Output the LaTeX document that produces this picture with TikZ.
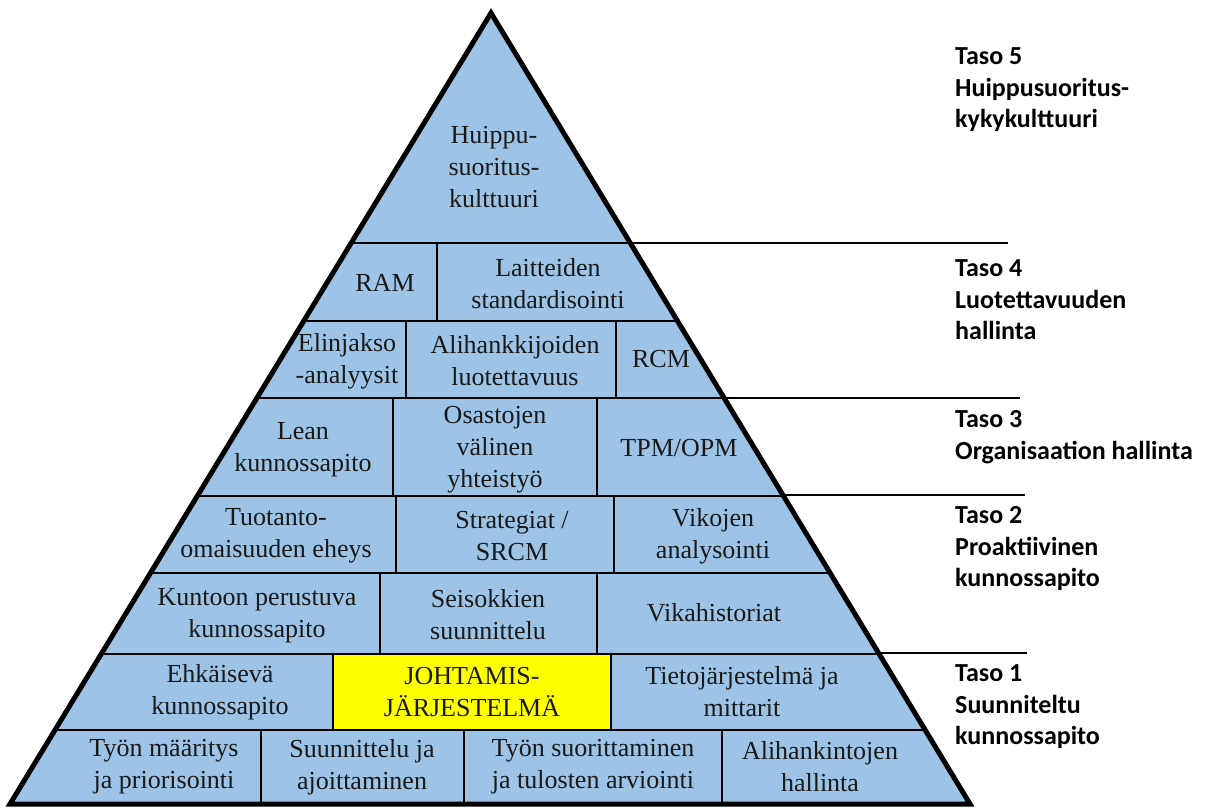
\documentclass[tikz,border=0pt]{standalone}
\usepackage{fontspec}
\setmainfont{Liberation Serif}
\newfontfamily\lblfont{Carlito}
\definecolor{pyrblue}{HTML}{9DC3E6}
\definecolor{hiyellow}{HTML}{FFFF00}
\begin{document}
\begin{tikzpicture}[x=1pt,y=-1pt,
  cell/.style={align=center,inner sep=0pt,font=\fontsize{26}{32}\selectfont,text=black!90},
  lvl/.style={align=left,anchor=west,inner sep=0pt,font=\lblfont\bfseries\fontsize{26}{31.5}\selectfont},
  inner/.style={line width=1.8pt},
  ext/.style={line width=2.4pt}]
\useasboundingbox (0,0) rectangle (1213,807);
% pyramid corners
\coordinate (apex) at (491,13);
\coordinate (bl) at (10,804);
\coordinate (br) at (970,804);
\fill[pyrblue] (apex) -- (bl) -- (br) -- cycle;
\fill[hiyellow] (333,654) rectangle (611,730);
\begin{scope}
\clip (apex) -- (bl) -- (br) -- cycle;
% horizontal row lines
\foreach \yy in {243,321,398,496,573,654,730}
  \draw[inner] (0,\yy) -- (1213,\yy);
% vertical dividers
\draw[inner] (437,243) -- (437,321);
\draw[inner] (406,321) -- (406,398);
\draw[inner] (616,321) -- (616,398);
\draw[inner] (393,398) -- (393,496);
\draw[inner] (597,398) -- (597,496);
\draw[inner] (396,496) -- (396,573);
\draw[inner] (614,496) -- (614,573);
\draw[inner] (380,573) -- (380,654);
\draw[inner] (597,573) -- (597,654);
\draw[inner] (333,654) -- (333,730);
\draw[inner] (611,654) -- (611,730);
\draw[inner] (261,730) -- (261,804);
\draw[inner] (464,730) -- (464,804);
\draw[inner] (722,730) -- (722,804);
\end{scope}
\draw[line width=5pt,line join=miter] (apex) -- (bl) -- (br) -- cycle;
% extension lines
\coordinate (e5a) at (630,243); \coordinate (e5b) at (1008,243);
\coordinate (e4a) at (724,398); \coordinate (e4b) at (1020,398);
\coordinate (e3a) at (783,495); \coordinate (e3b) at (1025,495);
\coordinate (e2a) at (878,653); \coordinate (e2b) at (1027,653);
\draw[ext] (e5a) -- (e5b);
\draw[ext] (e4a) -- (e4b);
\draw[ext] (e3a) -- (e3b);
\draw[ext] (e2a) -- (e2b);
% cell texts
\node[cell] (huippu) at (494,167) {Huippu-\\suoritus-\\kulttuuri};
\node[cell] (ram) at (385,283) {RAM};
\node[cell] (laitteiden) at (548,284) {Laitteiden\\standardisointi};
\node[cell] (elinjakso) at (347,361) {Elinjakso\\-analyysit};
\node[cell] (alihankkijoiden) at (515,361) {Alihankkijoiden\\luotettavuus};
\node[cell] (rcm) at (661,359) {RCM};
\node[cell] (lean) at (303,450) {Lean\\kunnossapito};
\node[cell] (osastojen) at (495,450) {Osastojen\\välinen\\yhteistyö};
\node[cell] (tpm) at (679,448) {TPM/OPM};
\node[cell] (tuotanto) at (276,536) {Tuotanto-\\omaisuuden eheys};
\node[cell] (strategiat) at (512,536) {Strategiat /\\SRCM};
\node[cell] (vikojen) at (713,536) {Vikojen\\analysointi};
\node[cell] (kuntoon) at (257,616) {Kuntoon perustuva\\kunnossapito};
\node[cell] (seisokkien) at (488,615) {Seisokkien\\suunnittelu};
\node[cell] (vikahist) at (714,613) {Vikahistoriat};
\node[cell] (ehkaiseva) at (220,692) {Ehkäisevä\\kunnossapito};
\node[cell] (johtamis) at (472,692) {JOHTAMIS-\\JÄRJESTELMÄ};
\node[cell] (tietojarj) at (742,692) {Tietojärjestelmä ja\\mittarit};
\node[cell] (tyon) at (164,767) {Työn määritys\\ja priorisointi};
\node[cell] (suunnittelu) at (362,767) {Suunnittelu ja\\ajoittaminen};
\node[cell] (suorittaminen) at (593,767) {Työn suorittaminen\\ja tulosten arviointi};
\node[cell] (alihankinta) at (820,767) {Alihankintojen\\hallinta};
% level labels
\node[lvl] (taso5) at (955,90) {Taso 5\\Huippusuoritus-\\kykykulttuuri};
\node[lvl] (taso4) at (955,300) {Taso 4\\Luotettavuuden\\hallinta};
\node[lvl] (taso3) at (955,437) {Taso 3\\Organisaation hallinta};
\node[lvl] (taso2) at (955,549) {Taso 2\\Proaktiivinen\\kunnossapito};
\node[lvl] (taso1) at (955,707) {Taso 1\\Suunniteltu\\kunnossapito};
\end{tikzpicture}
\end{document}
